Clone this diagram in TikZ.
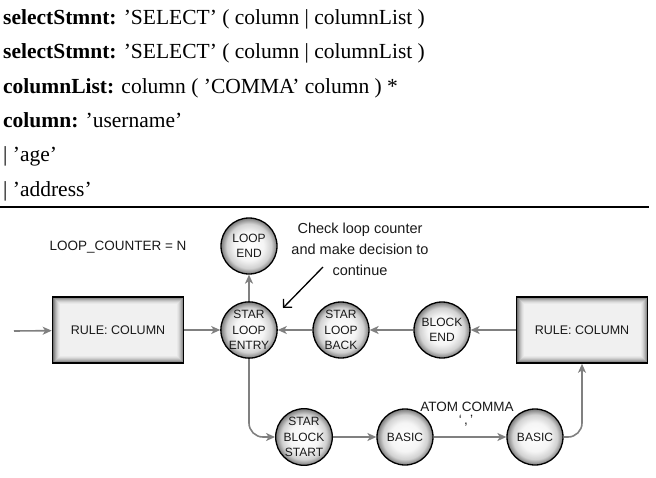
\documentclass[tikz,border=0pt]{standalone}
\usepackage{fontspec}
\setmainfont{Liberation Serif}
\newfontfamily\diagfont{Liberation Sans}
\usetikzlibrary{arrows.meta}
\definecolor{flowgray}{rgb}{0.5,0.5,0.5}
\definecolor{inkgray}{rgb}{0.1,0.1,0.1}
\pgfdeclareradialshading{bubble}{\pgfpoint{0bp}{0bp}}{%
  color(0bp)=(white); color(13bp)=(black!4); color(20bp)=(black!18);
  color(25bp)=(black!52); color(50bp)=(black!52)}

\begin{document}
\begin{tikzpicture}[%
  x=1pt, y=-1pt,
  >={Stealth[length=9pt,width=8pt,inset=2.5pt]},
  grammar/.style={anchor=base west, inner sep=0pt,
    font=\fontsize{21.5}{25}\selectfont},
  label/.style={inner sep=0pt, align=center, text=inkgray,
    font=\diagfont\fontsize{13.5}{21}\selectfont},
  state/.style={circle, draw=black, line width=1.3pt, minimum size=56pt,
    inner sep=0pt, shading=bubble, align=center,
    text=inkgray, font=\diagfont\fontsize{12}{15.5}\selectfont},
  rulebox/.style={draw=black, line width=1.6pt, minimum width=131pt,
    minimum height=66pt, text=inkgray, font=\diagfont\fontsize{12.5}{14}\selectfont,
    path picture={
      \foreach \i/\c in {0/55,1/44,2/34,3/26,4/19,5/13,6/9,7/6}
        \fill[black!\c] ([xshift=\i pt,yshift=-\i pt]path picture bounding box.north west)
          rectangle ([xshift=-\i pt,yshift=\i pt]path picture bounding box.south east);
    }},
  flow/.style={->, flowgray, line width=1.6pt},
]

  \useasboundingbox (0,0) rectangle (656,477);

  % grammar
  \node[grammar] (g1) at (3,24) {\textbf{selectStmnt:} 'SELECT' ( column | columnList )};
  \node[grammar] (g2) at (3,58) {\textbf{selectStmnt:} 'SELECT' ( column | columnList )};
  \node[grammar] (g3) at (3,93) {\textbf{columnList:} column ( 'COMMA' column ) *};
  \node[grammar] (g4) at (3,127) {\textbf{column:} 'username'};
  \node[grammar] (g5) at (3,161) {| 'age'};
  \node[grammar] (g6) at (3,196) {| 'address'};

  \draw[line width=1.8pt] (0,207) -- (649,207);

  % network
  \node[label] (counter) at (118,247) {LOOP\_COUNTER = N};

  \node[state] (loopend) at (249,246) {LOOP\\END};
  \node[state] (entry) at (249,330) {STAR\\LOOP\\ENTRY};
  \node[state] (loopback) at (341,330) {STAR\\LOOP\\BACK};
  \node[state] (blockend) at (442,330) {BLOCK\\END};
  \node[rulebox] (ruleL) at (118,330) {RULE: COLUMN};
  \node[rulebox] (ruleR) at (582,330) {RULE: COLUMN};

  \node[state] (blockstart) at (304,437) {STAR\\BLOCK\\START};
  \node[state] (basicA) at (405,437) {BASIC};
  \node[state] (basicB) at (535,437) {BASIC};

  \node[label] (atom) at (467,407) {ATOM COMMA};
  \node[label] (comma) at (466,421) {‘\,,\,’};

  \node[label, font=\diagfont\fontsize{14.5}{21}\selectfont] (note) at (360,249)
    {Check loop counter\\and make decision to\\continue};

  \coordinate (input) at (14,331);
  \coordinate (tail) at (323,267);
  \coordinate (tip) at (283,308);

  \draw[flow] (input) -- (ruleL);
  \draw[flow] (ruleL) -- (entry);
  \draw[flow] (loopback) -- (entry);
  \draw[flow] (blockend) -- (loopback);
  \draw[flow] (ruleR) -- (blockend);
  \draw[flow] (entry) -- (loopend);
  \draw[flow, rounded corners=14pt] (entry) |- (blockstart);
  \draw[flow] (blockstart) -- (basicA);
  \draw[flow] (basicA) -- (basicB);
  \draw[flow, rounded corners=14pt] (basicB) -| (ruleR);

  \draw[-{Straight Barb[length=6pt,width=12pt]}, line width=1.3pt] (tail) -- (tip);

\end{tikzpicture}
\end{document}
